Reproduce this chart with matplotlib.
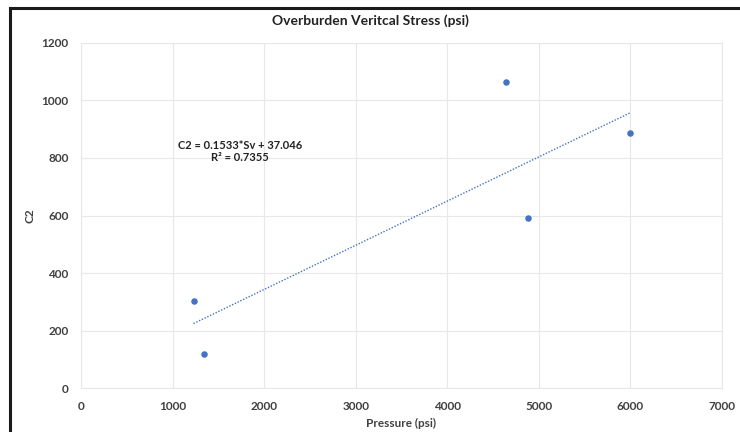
import numpy as np
import matplotlib.pyplot as plt
from matplotlib.lines import Line2D

# Presion de sobrecarga vs C2
presion = [1229, 1345, 4642, 4878, 5995]
c2 = [302, 118, 1064, 591, 888]

# Ajuste lineal reportado
pendiente = 0.1533
intercepto = 37.046
r2 = 0.7355

x_ticks = [0, 1000, 2000, 3000, 4000, 5000, 6000, 7000]
y_ticks = [0, 200, 400, 600, 800, 1000, 1200]

plt.rcParams['font.family'] = ['Lato', 'DejaVu Sans']

azul = '#4472C4'
gris = '#404040'

fig = plt.figure(figsize=(7.4, 4.32), dpi=100)
ax = fig.add_axes([0.1095, 0.1007, 0.866, 0.8005])

ax.scatter(presion, c2, s=22, color=azul, zorder=3, linewidths=0)

xt = np.array([min(presion), max(presion)])
ax.plot(xt, pendiente * xt + intercepto, color=azul, lw=1.0,
        linestyle=(0, (1, 1.2)), zorder=2)

ax.text(1734, 821, "C2 = %.4f*Sv + %.3f\nR² = %.4f" % (pendiente, intercepto, r2),
        ha='center', va='center', multialignment='center',
        fontsize=8, fontweight='bold', color='#222222', linespacing=1.1)

ax.set_xlim(0, 7000)
ax.set_ylim(0, 1200)
ax.set_xticks(x_ticks)
ax.set_yticks(y_ticks)
ax.grid(True, color='#e8e8e8', lw=0.8)
ax.set_axisbelow(True)
for s in ax.spines.values():
    s.set_color('#e8e8e8')
    s.set_linewidth(0.8)
ax.tick_params(length=0, labelsize=8.5, colors=gris, pad=9)
for lb in ax.get_xticklabels() + ax.get_yticklabels():
    lb.set_fontweight('bold')

ax.set_xlabel("Pressure (psi)", fontsize=8.5, fontweight='bold', color=gris, labelpad=4)
ax.set_ylabel("C2", fontsize=8.5, fontweight='bold', color=gris, labelpad=4)
fig.text(0.5, 0.953, "Overburden Veritcal Stress (psi)", ha='center', va='center',
         fontsize=10, fontweight='bold', color='#222222')

# Marco exterior
y_top = 1 - 8 / 432
x_left = 9.5 / 740
fig.add_artist(Line2D([x_left, x_left], [0, y_top], transform=fig.transFigure,
                      color='#1a1a1a', lw=2.2))
fig.add_artist(Line2D([x_left, 1], [y_top, y_top], transform=fig.transFigure,
                      color='#1a1a1a', lw=2.2))

fig.savefig("out.png", dpi=100)
